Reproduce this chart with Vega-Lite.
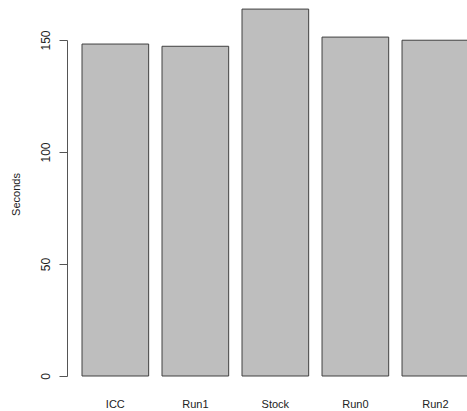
{
  "$schema": "https://vega.github.io/schema/vega-lite/v6.json",
  "autosize": {"type": "none"},
  "width": 385,
  "height": 376,
  "padding": {"left": 82, "right": 0, "top": 0, "bottom": 35},
  "background": "white",
  "config": {"view": {"stroke": null}, "font": "Liberation Sans"},
  "data": {"values": [
    {"name": "ICC", "seconds": 148.2},
    {"name": "Run1", "seconds": 147.2},
    {"name": "Stock", "seconds": 163.8},
    {"name": "Run0", "seconds": 151.3},
    {"name": "Run2", "seconds": 149.9}
  ]},
  "mark": {"type": "bar", "fill": "#bebebe", "stroke": "#404040", "strokeWidth": 1, "clip": false},
  "encoding": {
    "x": {
      "field": "name", "type": "nominal", "sort": null,
      "scale": {"range": [0, 386.7], "paddingInner": 0.1667, "paddingOuter": 0},
      "axis": {"title": null, "domain": false, "ticks": false, "labelAngle": 0, "labelPadding": 22, "labelFontSize": 11, "labelColor": "#222", "labelFont": "Liberation Sans"}
    },
    "y": {
      "field": "seconds", "type": "quantitative",
      "scale": {"domain": [0, 150], "range": [376, 40], "nice": false, "zero": true},
      "axis": {
        "title": "Seconds", "titleFontSize": 11, "titleFontWeight": "normal", "titleColor": "#222", "titlePadding": 18, "titleY": 194,
        "values": [0, 50, 100, 150], "offset": 15, "tickSize": 8, "grid": false,
        "domainColor": "#555", "tickColor": "#555",
        "labelAngle": -90, "labelAlign": "center", "labelBaseline": "bottom", "labelPadding": 7,
        "labelFontSize": 12, "labelColor": "#222"
      }
    }
  }
}
